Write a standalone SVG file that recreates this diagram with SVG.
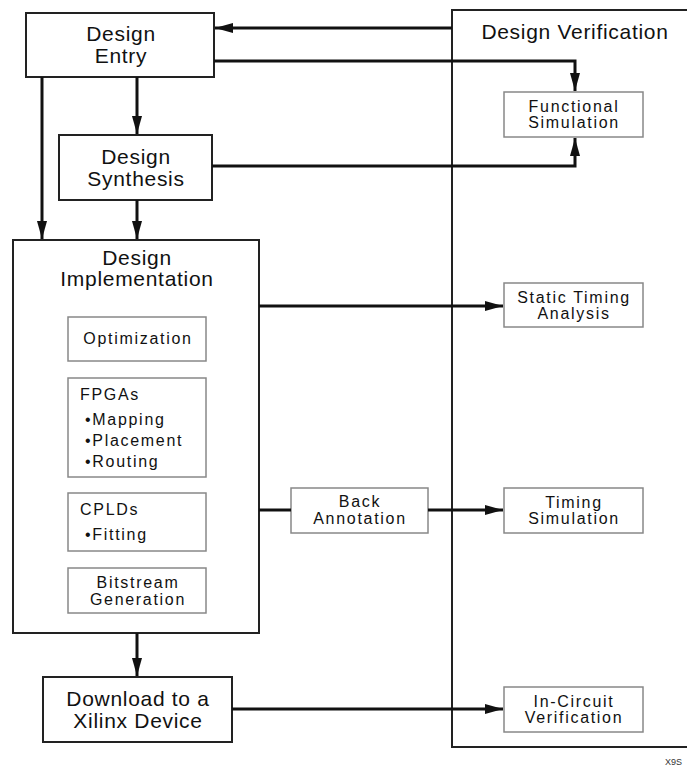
<svg xmlns="http://www.w3.org/2000/svg" width="687" height="769" viewBox="0 0 687 769">
<style>
.main{fill:#fff;stroke:#222;stroke-width:2}
.sub{fill:#fff;stroke:#888;stroke-width:1.5}
.t{font-family:"Liberation Sans",Arial,sans-serif;fill:#111;text-anchor:middle}
.l{text-anchor:start}
.big{font-size:21px;letter-spacing:0.7px}
.sm{font-size:16px;letter-spacing:1.7px}
.ln{fill:none;stroke:#111;stroke-width:3}
</style>
<defs>
<marker id="ah" viewBox="0 0 18 10" refX="18" refY="5" markerWidth="6" markerHeight="3.4" markerUnits="strokeWidth" orient="auto"><path d="M0,0 L18,5 L0,10 z" fill="#111"/></marker>
</defs>
<rect width="687" height="769" fill="#fff"/>
<g id="verification">
<rect class="main" x="452" y="10" width="240" height="737"/>
<text class="t big" x="575" y="39">Design Verification</text>
</g>
<g id="entry">
<rect class="main" x="26" y="13" width="188" height="64"/>
<text class="t big" x="121" y="41">Design</text>
<text class="t big" x="121" y="63">Entry</text>
</g>
<g id="synthesis">
<rect class="main" x="59" y="135" width="153" height="65"/>
<text class="t big" x="136" y="164">Design</text>
<text class="t big" x="136" y="186">Synthesis</text>
</g>
<g id="implementation">
<rect class="main" x="13" y="240" width="246" height="393"/>
<text class="t big" x="137" y="265">Design</text>
<text class="t big" x="137" y="286">Implementation</text>
</g>
<g id="optimization">
<rect class="sub" x="68" y="317" width="138" height="44"/>
<text class="t sm" x="138" y="344">Optimization</text>
</g>
<g id="fpgas">
<rect class="sub" x="68" y="378" width="138" height="99"/>
<text class="t sm l" x="80" y="400">FPGAs</text>
<text class="t sm l" x="85" y="425">•Mapping</text>
<text class="t sm l" x="85" y="446">•Placement</text>
<text class="t sm l" x="85" y="467">•Routing</text>
</g>
<g id="cplds">
<rect class="sub" x="68" y="493" width="138" height="58"/>
<text class="t sm l" x="80" y="515">CPLDs</text>
<text class="t sm l" x="85" y="540">•Fitting</text>
</g>
<g id="bitstream">
<rect class="sub" x="68" y="568" width="138" height="45"/>
<text class="t sm" x="138" y="588">Bitstream</text>
<text class="t sm" x="138" y="605">Generation</text>
</g>
<g id="download">
<rect class="main" x="43" y="677" width="189" height="65"/>
<text class="t big" x="138" y="706">Download to a</text>
<text class="t big" x="138" y="728">Xilinx Device</text>
</g>
<g id="back">
<rect class="sub" x="291" y="488" width="137" height="45"/>
<text class="t sm" x="360" y="507">Back</text>
<text class="t sm" x="360" y="524">Annotation</text>
</g>
<g id="functional">
<rect class="sub" x="504" y="92" width="139" height="45"/>
<text class="t sm" x="574" y="112">Functional</text>
<text class="t sm" x="574" y="128">Simulation</text>
</g>
<g id="static">
<rect class="sub" x="504" y="283" width="139" height="44"/>
<text class="t sm" x="574" y="303">Static Timing</text>
<text class="t sm" x="574" y="319">Analysis</text>
</g>
<g id="timing">
<rect class="sub" x="504" y="488" width="139" height="45"/>
<text class="t sm" x="574" y="508">Timing</text>
<text class="t sm" x="574" y="524">Simulation</text>
</g>
<g id="incircuit">
<rect class="sub" x="504" y="687" width="139" height="45"/>
<text class="t sm" x="574" y="707">In-Circuit</text>
<text class="t sm" x="574" y="723">Verification</text>
</g>
<g id="connectors">
<path class="ln" d="M452,28 H215" marker-end="url(#ah)"/>
<path class="ln" d="M214,61 H575 V91" marker-end="url(#ah)"/>
<path class="ln" d="M212,166 H575 V138" marker-end="url(#ah)"/>
<path class="ln" d="M42,77 V239" marker-end="url(#ah)"/>
<path class="ln" d="M137,77 V134" marker-end="url(#ah)"/>
<path class="ln" d="M137,200 V239" marker-end="url(#ah)"/>
<path class="ln" d="M259,306 H503" marker-end="url(#ah)"/>
<path class="ln" d="M259,510 H291"/>
<path class="ln" d="M428,510 H503" marker-end="url(#ah)"/>
<path class="ln" d="M137,633 V676" marker-end="url(#ah)"/>
<path class="ln" d="M232,709 H503" marker-end="url(#ah)"/>
</g>
<text x="665" y="765" style="font-family:'Liberation Sans',Arial,sans-serif;font-size:9px;fill:#333">X9S</text>
</svg>
